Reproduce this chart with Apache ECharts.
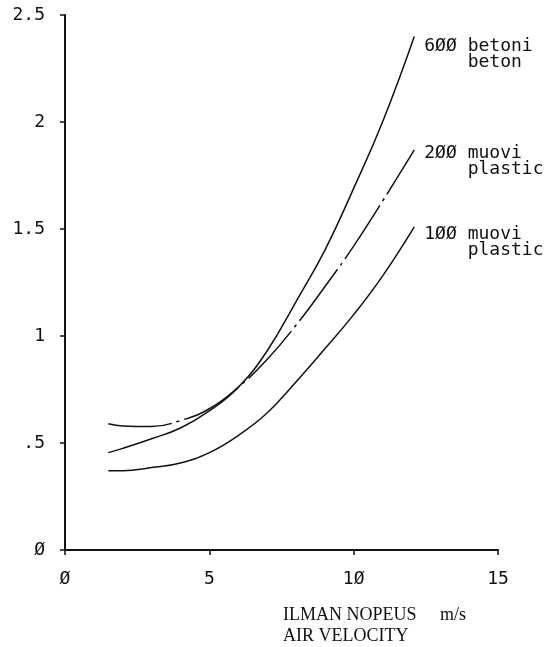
<!DOCTYPE html>
<html>
<head>
<meta charset="utf-8">
<script src="https://cdn.jsdelivr.net/npm/echarts@6/dist/echarts.min.js"></script>
<style>
  html, body { margin: 0; padding: 0; background: #fff; }
  #chart { width: 553px; height: 647px; }
</style>
</head>
<body>
<div id="chart"></div>
<script>
// Air velocity (m/s) sample points shared by all curves
const velocity = [1.5, 2, 3, 4, 5, 6, 7, 8, 9, 10, 11, 12.1];

// 600 mm concrete
const beton600 = [0.455, 0.475, 0.52, 0.57, 0.65, 0.76, 0.93, 1.16, 1.40, 1.69, 2.00, 2.40];
// 200 mm plastic
const muovi200 = [0.59, 0.58, 0.577, 0.605, 0.66, 0.76, 0.89, 1.05, 1.23, 1.42, 1.63, 1.87];
// 100 mm plastic
const muovi100 = [0.37, 0.37, 0.385, 0.407, 0.455, 0.535, 0.64, 0.785, 0.94, 1.10, 1.28, 1.51];

// Tick labels as printed by the plotter (slashed zero)
const xTickValues = [0, 5, 10, 15];
const xTickLabels = ['Ø', '5', '1Ø', '15'];
const yTickValues = [0, 0.5, 1, 1.5, 2, 2.5];
const yTickLabels = ['Ø', '.5', '1', '1.5', '2', '2.5'];

// Curve end captions
const curveNames = ['6ØØ betoni\n    beton', '2ØØ muovi\n    plastic', '1ØØ muovi\n    plastic'];

// Horizontal axis title: Finnish name, unit, English name
const xTitleFi = 'ILMAN NOPEUS';
const xTitleUnit = 'm/s';
const xTitleEn = 'AIR VELOCITY';

const pair = (ys) => velocity.map((x, i) => [x, ys[i]]);
const lookup = (vals, labels) => (v) => {
  const i = vals.findIndex(t => Math.abs(t - v) < 1e-9);
  return i >= 0 ? labels[i] : '';
};

const mono = 'DejaVu Sans Mono';
const serif = '"Liberation Serif"';
const ink = '#111';

function curve(name, ys, dash, offset) {
  return {
    type: 'line',
    name: name,
    data: pair(ys),
    smooth: 0.45,
    showSymbol: false,
    lineStyle: { color: ink, width: 1.5, type: dash },
    endLabel: {
      show: true,
      formatter: name,
      fontFamily: mono,
      fontSize: 18,
      color: ink,
      align: 'left',
      lineHeight: 16,
      offset: offset
    },
    animation: false
  };
}

const chart = echarts.init(document.getElementById('chart'));
chart.setOption({
  backgroundColor: '#fff',
  animation: false,
  grid: { left: 65, right: 55, top: 15, bottom: 97 },
  xAxis: {
    type: 'value', min: 0, max: 15, interval: 5,
    axisLine: { show: true, lineStyle: { color: ink, width: 2 } },
    axisTick: { show: true, length: 5, lineStyle: { color: ink, width: 1.5 } },
    splitLine: { show: false },
    axisLabel: {
      margin: 20, fontFamily: mono, fontSize: 18, color: ink,
      formatter: lookup(xTickValues, xTickLabels)
    }
  },
  yAxis: {
    type: 'value', min: 0, max: 2.5, interval: 0.5,
    axisLine: { show: true, lineStyle: { color: ink, width: 2 } },
    axisTick: { show: true, length: 5, lineStyle: { color: ink, width: 1.5 } },
    splitLine: { show: false },
    axisLabel: {
      margin: 20, fontFamily: mono, fontSize: 18, color: ink,
      formatter: lookup(yTickValues, yTickLabels)
    }
  },
  series: [
    curve(curveNames[0], beton600, 'solid', [2, 18]),
    curve(curveNames[1], muovi200, [64, 5, 3, 5], [2, 12]),
    curve(curveNames[2], muovi100, 'solid', [2, 15])
  ],
  graphic: [
    {
      type: 'text', left: 283, top: 606,
      style: { text: xTitleFi, font: '18px ' + serif, fill: ink }
    },
    {
      type: 'text', left: 440, top: 606,
      style: { text: xTitleUnit, font: '18px ' + serif, fill: ink }
    },
    {
      type: 'text', left: 283, top: 627,
      style: { text: xTitleEn, font: '18px ' + serif, fill: ink }
    }
  ]
});
</script>
</body>
</html>
